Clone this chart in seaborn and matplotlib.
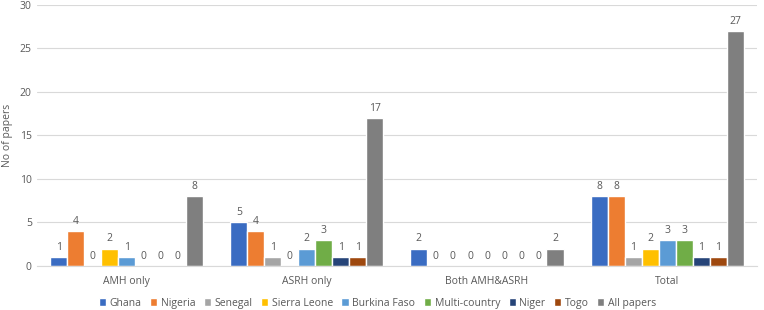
import matplotlib.pyplot as plt
import pandas as pd
import seaborn as sns

# categories and series
groups = ['AMH only', 'ASRH only', 'Both AMH&ASRH', 'Total']
series = ['Ghana', 'Nigeria', 'Senegal', 'Sierra Leone', 'Burkina Faso',
          'Multi-country', 'Niger', 'Togo', 'All papers']

ghana = [1, 5, 2, 8]
nigeria = [4, 4, 0, 8]
senegal = [0, 1, 0, 1]
sierra_leone = [2, 0, 0, 2]
burkina_faso = [1, 2, 0, 3]
multi_country = [0, 3, 0, 3]
niger = [0, 1, 0, 1]
togo = [0, 1, 0, 1]
all_papers = [8, 17, 2, 27]

values = [ghana, nigeria, senegal, sierra_leone, burkina_faso,
          multi_country, niger, togo, all_papers]

colors = ['#3A6CC2', '#ED7D31', '#A5A5A5', '#FFC000', '#5B9BD5',
          '#70AD47', '#264478', '#9E480E', '#7F7F7F']

rows = []
for s, vals in zip(series, values):
    for g, v in zip(groups, vals):
        rows.append({'grupo': g, 'serie': s, 'n': v})
df = pd.DataFrame(rows)

sns.set_style('white')
plt.rcParams['font.family'] = ['Open Sans', 'DejaVu Sans']
txt = '#595959'

fig = plt.figure(figsize=(7.64, 3.10), dpi=100)
ax = fig.add_axes([0.048, 0.142, 0.943, 0.842])

sns.barplot(data=df, x='grupo', y='n', hue='serie', order=groups,
            hue_order=series, palette=colors, width=0.85, gap=0,
            saturation=1, ax=ax, legend=True)

for c in ax.containers:
    ax.bar_label(c, fmt='%d', padding=3, fontsize=7.5, color=txt)

ax.set_ylim(0, 30)
ax.set_yticks(range(0, 31, 5))
ax.set_xlim(-0.5, 3.5)
ax.yaxis.grid(True, color='#D9D9D9', linewidth=0.8)
ax.set_axisbelow(True)
for side in ['top', 'right', 'left']:
    ax.spines[side].set_visible(False)
ax.spines['bottom'].set_color('#D9D9D9')
ax.tick_params(axis='both', length=0, labelsize=7.5, colors=txt)
ax.tick_params(axis='x', pad=7)
ax.set_xlabel('')
ax.set_ylabel('No of papers', fontsize=7.5, color=txt, labelpad=5)

ax.legend(loc='center', bbox_to_anchor=(0.473, -0.142), ncol=9,
          frameon=False, fontsize=7.5, handlelength=0.7, handleheight=0.7,
          handletextpad=0.35, columnspacing=0.8, labelcolor=txt,
          borderaxespad=0, borderpad=0)

plt.savefig('out.png', dpi=100)
